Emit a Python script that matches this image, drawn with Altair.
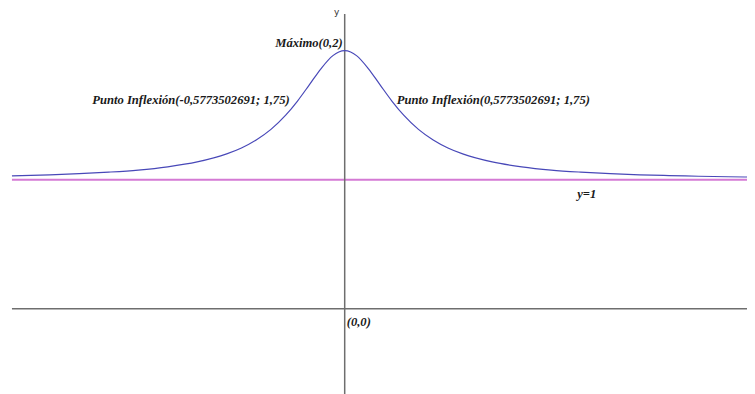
import altair as alt
import pandas as pd

# Curve f(x) (horizontal asymptote y=1, maximum at (0,2))
curve_x = [-5.64, -5.0, -4.5, -4.0, -3.5, -3.0, -2.5, -2.0, -1.75, -1.5, -1.25, -1.0,
           -0.8, -0.6, -0.4, -0.2, -0.1, 0.0, 0.1, 0.2, 0.4, 0.6, 0.8, 1.0, 1.25, 1.5,
           1.75, 2.0, 2.5, 3.0, 3.5, 4.0, 4.5, 5.0, 5.5, 6.0, 6.5, 6.82]
curve_y = [1.030, 1.038, 1.047, 1.059, 1.075, 1.100, 1.138, 1.200, 1.246, 1.308, 1.390, 1.500,
           1.610, 1.735, 1.862, 1.962, 1.990, 2.000, 1.990, 1.962, 1.862, 1.735, 1.610, 1.500, 1.390, 1.308,
           1.246, 1.200, 1.138, 1.100, 1.075, 1.059, 1.047, 1.038, 1.032, 1.027, 1.023, 1.021]

# asymptote y = 1
asym_x = [-5.64, 6.82]
asym_y = [1, 1]

# annotations
label_text = ["Máximo(0,2)", "Punto Inflexión(-0,5773502691; 1,75)",
              "Punto Inflexión(0,5773502691; 1,75)", "y=1", "(0,0)"]
label_x = [0.0, -0.5773502691, 0.5773502691, 3.94, 0.0]
label_y = [2.0, 1.75, 1.75, 1.0, 0.0]

X_DOM = [-5.707, 6.819]
Y_DOM = [-0.661, 2.331]

xs = alt.Scale(domain=X_DOM, nice=False, zero=False)
ys = alt.Scale(domain=Y_DOM, nice=False, zero=False)

curve_df = pd.DataFrame({"x": curve_x, "y": curve_y})
asym_df = pd.DataFrame({"x": asym_x, "y": asym_y})
lab_df = pd.DataFrame({"t": label_text, "x": label_x, "y": label_y})

axes_x_df = pd.DataFrame({"x": [-5.64], "x2": [6.82], "y": [0.0]})
axes_y_df = pd.DataFrame({"x": [0.0], "y": [-0.661], "y2": [2.2845]})

xa = alt.X("x:Q", scale=xs, axis=None)
ya = alt.Y("y:Q", scale=ys, axis=None)

x_axis = alt.Chart(axes_x_df).mark_rule(color="#6e6e6e", strokeWidth=1.5).encode(
    x=xa, x2="x2:Q", y=ya)
y_axis = alt.Chart(axes_y_df).mark_rule(color="#6e6e6e", strokeWidth=1.5).encode(
    x=xa, y=ya, y2="y2:Q")

asym = alt.Chart(asym_df).mark_line(color="#d47ad4", strokeWidth=2).encode(x=xa, y=ya)
curve = alt.Chart(curve_df).mark_line(color="#4848b8", strokeWidth=1.2,
                                      interpolate="monotone").encode(x=xa, y=ya)

font = "Liberation Serif"
base_txt = dict(font=font, fontSize=12.6, fontWeight="bold", fontStyle="italic",
                color="#1a1a1a", baseline="middle")

def lab(i, **kw):
    return alt.Chart(lab_df.iloc[[i]]).mark_text(**base_txt, **kw).encode(
        x=xa, y=ya, text="t:N")

t_max = lab(0, align="right", dx=-2, dy=-8)
t_left = lab(1, align="right", dx=-21, dy=17)
t_right = lab(2, align="left", dx=18, dy=17)
t_y1 = lab(3, align="left", dx=0, dy=14)
t_origin = lab(4, align="left", dx=2, dy=13)

y_name = alt.Chart(pd.DataFrame({"x": [0.0], "y": [2.2845], "t": ["y"]})).mark_text(
    font="DejaVu Sans", fontSize=9, color="#333333", align="center", baseline="middle",
    dx=-8, dy=-2).encode(x=xa, y=ya, text="t:N")

chart = alt.layer(asym, x_axis, y_axis, curve, t_max, t_left, t_right, t_y1, t_origin,
                  y_name).properties(
    width=739, height=386, padding=0, autosize=alt.AutoSizeParams(type="none")
).configure_view(stroke=None)

chart.save("out.html", embed_options={"renderer": "svg", "actions": False})
